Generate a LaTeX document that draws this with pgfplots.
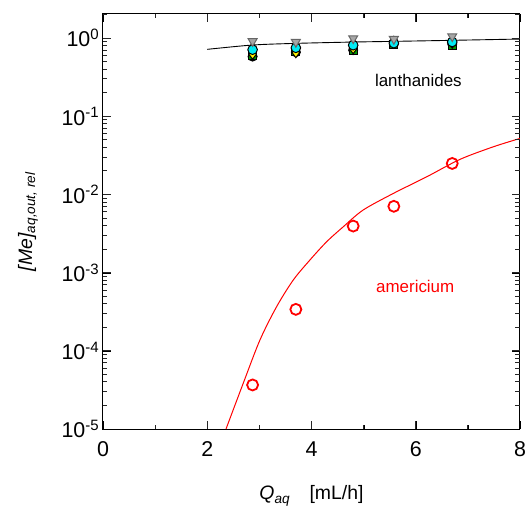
\documentclass[border=0pt]{standalone}
\usepackage{pgfplots}
\pgfplotsset{compat=1.18}
\usepackage{fontspec}
\setmainfont{Liberation Sans}
\definecolor{cyanx}{RGB}{0,235,245}
\definecolor{greenx}{RGB}{0,150,0}
\begin{document}
\begin{tikzpicture}
\begin{axis}[
  scale only axis,
  width=417bp, height=415bp,
  xmin=0, xmax=8, ymin=1e-5, ymax=2.03,
  ymode=log, log basis y=10,
  xtick={0,2,4,6,8}, minor x tick num=1,
  ytick={1e-5,1e-4,1e-3,1e-2,1e-1,1},
  tickwidth=8pt, subtickwidth=4.5pt,
  every axis/.append style={line width=1bp},
  tick style={black},
  tick label style={font=\fontsize{21.5}{25}\selectfont},
  xticklabel style={yshift=-9bp},
  /pgf/number format/assume math mode=true,
  yticklabel={10\textsuperscript{\pgfmathparse{int(round(\tick))}\pgfmathresult}},
  xlabel={\textit{Q}\textsubscript{\textit{aq}}\quad[mL/h]},
  ylabel={\textit{[Me]}\textsubscript{\textit{aq,out, rel}}},
  label style={font=\fontsize{19.5}{23}\selectfont},
  xlabel style={at={(axis description cs:0.5,-0.171)}, anchor=base},
  ylabel style={at={(axis description cs:-0.170,0.5)}, anchor=base},
]
% americium model curve
\addplot[red, line width=1bp, smooth] coordinates {
(2.36,1e-5) (2.69,3.84e-5) (3.01,1.37e-4) (3.33,3.66e-4) (3.65,8.04e-4)
(3.97,1.45e-3) (4.29,2.48e-3) (4.61,3.86e-3) (4.99,6.31e-3) (5.57,1.03e-2)
(6.21,1.68e-2) (6.85,2.81e-2) (7.49,4.07e-2) (8.0,5.2e-2)};
% lanthanides model curve
\addplot[black, line width=0.9bp, smooth] coordinates {
(2.0,0.717) (2.87,0.814) (3.7,0.855) (4.8,0.889) (5.58,0.907) (6.7,0.935) (8.0,0.971)};
% lanthanide data
\addplot[only marks, mark=*, mark size=4.5bp, draw=black, fill=black] coordinates {
(2.87,0.58) (3.7,0.66) (4.8,0.70) (5.58,0.84) (6.7,0.84)};
\addplot[only marks, mark=square*, mark size=4bp, draw=black, fill=greenx] coordinates {
(2.87,0.60) (3.7,0.67) (4.8,0.69) (5.58,0.82) (6.7,0.81)};
\addplot[only marks, mark=diamond*, mark size=5bp, draw=black, fill=yellow] coordinates {
(2.87,0.62) (3.7,0.65) (4.8,0.73) (5.58,0.86) (6.7,0.86)};
\addplot[only marks, mark=triangle*, mark size=4.5bp, draw=black, fill=red] coordinates {
(2.87,0.78) (3.7,0.80) (4.8,0.90) (5.58,0.92) (6.7,0.95)};
\addplot[only marks, mark=*, mark size=4.8bp, draw=black, fill=cyanx] coordinates {
(2.87,0.71) (3.7,0.75) (4.8,0.81) (5.58,0.86) (6.7,0.89)};
\addplot[only marks, mark=triangle*, mark options={rotate=180}, mark size=5.2bp, draw=black!60, fill=black!35] coordinates {
(2.87,0.91) (3.7,0.89) (4.8,0.99) (5.58,0.97) (6.7,1.05)};
% americium data
\addplot[only marks, mark=o, mark size=5.5bp, red, line width=1.8bp] coordinates {
(2.87,3.66e-5) (3.7,3.39e-4) (4.8,3.94e-3) (5.58,7.05e-3) (6.7,2.49e-2)};
\node[font=\fontsize{17}{20}\selectfont, text=black] at (axis cs:6.05,0.29) {lanthanides};
\node[font=\fontsize{17}{20}\selectfont, text=red] at (axis cs:5.99,6.6e-4) {americium};
% frame tick marks, with canvas-unit shifts
\foreach \e in {-5,-4,-3,-2,-1,0}{
  \foreach \m in {2,3,4,5,6,7,8,9}{
    \edef\temp{\noexpand\draw[black!85, line width=0.9bp] (axis cs:0,\m e\e) -- ([xshift=4.5bp]axis cs:0,\m e\e);
      \noexpand\draw[black!85, line width=0.9bp] (axis cs:8,\m e\e) -- ([xshift=-4.5bp]axis cs:8,\m e\e);}
    \temp
  }}
\foreach \e in {-4,-3,-2,-1,0}{
  \edef\temp{\noexpand\draw[black!85, line width=0.9bp] (axis cs:0,1e\e) -- ([xshift=8bp]axis cs:0,1e\e);
    \noexpand\draw[black!85, line width=0.9bp] (axis cs:8,1e\e) -- ([xshift=-8bp]axis cs:8,1e\e);}
  \temp
}
\foreach \x in {2,4,6}{
  \edef\temp{\noexpand\draw[black!85, line width=0.9bp] (axis cs:\x,1e-5) -- ([yshift=8bp]axis cs:\x,1e-5);
    \noexpand\draw[black!85, line width=0.9bp] (axis cs:\x,2.03) -- ([yshift=-8bp]axis cs:\x,2.03);}
  \temp
}
\foreach \x in {1,3,5,7}{
  \edef\temp{\noexpand\draw[black!85, line width=0.9bp] (axis cs:\x,1e-5) -- ([yshift=4.5bp]axis cs:\x,1e-5);
    \noexpand\draw[black!85, line width=0.9bp] (axis cs:\x,2.03) -- ([yshift=-4.5bp]axis cs:\x,2.03);}
  \temp
}
\end{axis}
\pgfresetboundingbox
\path[use as bounding box] (-103bp,-79bp) rectangle (425bp,429bp);
\end{tikzpicture}
\end{document}
